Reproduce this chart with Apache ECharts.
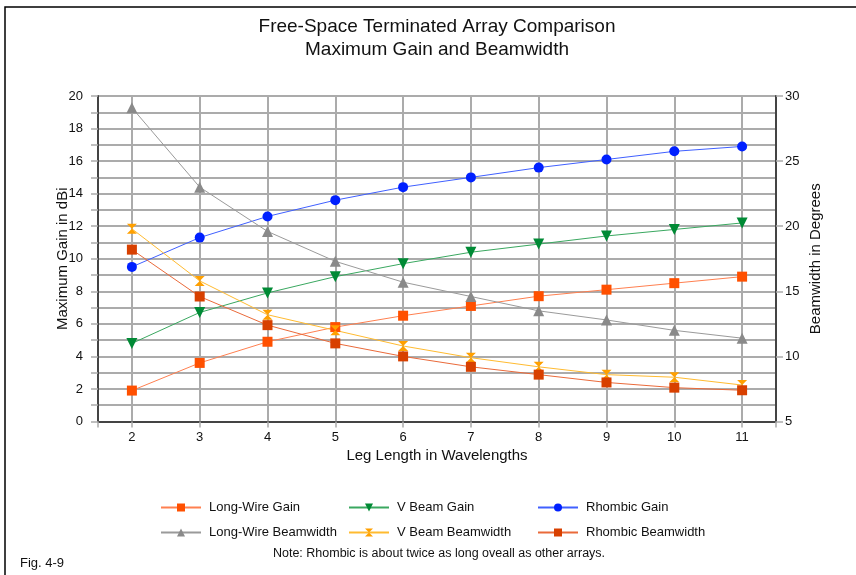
<!DOCTYPE html>
<html>
<head>
<meta charset="utf-8">
<script src="https://cdn.jsdelivr.net/npm/echarts@6/dist/echarts.min.js"></script>
<style>
  html, body { margin: 0; padding: 0; background: #fff; }
  #chart { width: 856px; height: 575px; }
</style>
</head>
<body>
<div id="chart"></div>
<script>
// Leg length (wavelengths) for each computed case
var legs = [2, 3, 4, 5, 6, 7, 8, 9, 10, 11];

// Maximum gain, dBi (left axis)
var longWireGain = [1.9, 3.6, 4.9, 5.8, 6.5, 7.1, 7.7, 8.1, 8.5, 8.9];
var vBeamGain    = [4.8, 6.7, 7.9, 8.9, 9.7, 10.4, 10.9, 11.4, 11.8, 12.2];
var rhombicGain  = [9.5, 11.3, 12.6, 13.6, 14.4, 15.0, 15.6, 16.1, 16.6, 16.9];

// Beamwidth, degrees (right axis)
var longWireBw = [29.1, 23.0, 19.6, 17.3, 15.7, 14.6, 13.5, 12.8, 12.0, 11.4];
var vBeamBw    = [19.8, 15.8, 13.2, 12.0, 10.8, 9.9, 9.2, 8.6, 8.4, 7.8];
var rhombicBw  = [18.2, 14.6, 12.4, 11.0, 10.0, 9.2, 8.6, 8.0, 7.6, 7.4];

var FONT = 'Liberation Sans, Arial, sans-serif';
var GRID = '#ababab';
var AXIS = '#444';

function pairs(vals) {
  return legs.map(function (x, i) { return [x, vals[i]]; });
}

var hourglass = 'path://M0,0L10,0L5,5L10,10L0,10L5,5Z';

function makeSeries(name, vals, axis, symbol, size, lineColor, markColor) {
  return {
    name: name,
    type: 'line',
    yAxisIndex: axis,
    data: pairs(vals),
    symbol: symbol,
    symbolSize: size,
    showAllSymbol: true,
    lineStyle: { color: lineColor, width: 1 },
    itemStyle: { color: markColor },
    emphasis: { disabled: true },
    animation: false
  };
}

var series = [
  makeSeries('Long-Wire Gain', longWireGain, 0, 'rect', 10, '#ff8050', '#ff5000'),
  makeSeries('V Beam Gain', vBeamGain, 0, 'triangle', 11, '#3aa860', '#008a35'),
  makeSeries('Rhombic Gain', rhombicGain, 0, 'circle', 10, '#4060ff', '#0020ff'),
  makeSeries('Long-Wire Beamwidth', longWireBw, 1, 'triangle', 11, '#9a9a9a', '#8a8a8a'),
  makeSeries('V Beam Beamwidth', vBeamBw, 1, hourglass, 10, '#ffbb30', '#ffa000'),
  makeSeries('Rhombic Beamwidth', rhombicBw, 1, 'rect', 10, '#ea6a3a', '#d84000')
];
// V Beam Gain uses a downward triangle
series[1].symbolRotate = 180;

// Legend entries laid out in a 3 x 2 grid
var legendCols = [160, 348, 537];
var legendRows = [501, 526];
var legends = series.map(function (s, i) {
  return {
    data: [s.name],
    left: legendCols[i % 3],
    top: legendRows[Math.floor(i / 3)],
    padding: 0,
    itemWidth: 40,
    itemHeight: 10,
    selectedMode: false,
    textStyle: { fontFamily: FONT, fontSize: 13, color: '#111', padding: [0, 0, 0, 3] }
  };
});

var chart = echarts.init(document.getElementById('chart'), null, { renderer: 'canvas' });
chart.setOption({
  animation: false,
  backgroundColor: '#fff',
  grid: { left: 98, right: 80, top: 96, bottom: 153.5, containLabel: false },
  legend: legends,
  xAxis: {
    type: 'value',
    min: 1.5,
    max: 11.5,
    splitNumber: 10,
    name: 'Leg Length in Wavelengths',
    nameLocation: 'middle',
    nameGap: 26,
    nameTextStyle: { fontFamily: FONT, fontSize: 15, color: '#111' },
    axisLine: { show: true, lineStyle: { color: AXIS, width: 2 } },
    axisTick: { show: true, length: 6, lineStyle: { color: GRID, width: 1.5 } },
    axisLabel: {
      fontFamily: FONT, fontSize: 13, color: '#111', margin: 9,
      formatter: function (v) { return Math.abs(v - Math.round(v)) < 1e-6 ? String(Math.round(v)) : ''; }
    },
    splitLine: { show: true, lineStyle: { color: GRID, width: 2 } }
  },
  yAxis: [
    {
      type: 'value',
      min: 0,
      max: 20,
      interval: 2,
      position: 'left',
      name: 'Maximum Gain in dBi',
      nameLocation: 'middle',
      nameRotate: 90,
      nameGap: 28,
      nameMoveOverlap: false,
      nameTextStyle: { fontFamily: FONT, fontSize: 15, color: '#111' },
      axisLine: { show: true, lineStyle: { color: AXIS, width: 2 } },
      axisTick: { show: true, length: 7, lineStyle: { color: GRID, width: 1.5 } },
      minorTick: { show: true, splitNumber: 2, length: 7, lineStyle: { color: GRID, width: 1.5 } },
      axisLabel: { fontFamily: FONT, fontSize: 13, color: '#111', margin: 15 },
      splitLine: { show: true, lineStyle: { color: GRID, width: 2 } },
      minorSplitLine: { show: true, lineStyle: { color: GRID, width: 2 } }
    },
    {
      type: 'value',
      min: 5,
      max: 30,
      interval: 5,
      position: 'right',
      name: 'Beamwidth in Degrees',
      nameLocation: 'middle',
      nameRotate: 90,
      nameGap: 32,
      nameMoveOverlap: false,
      nameTextStyle: { fontFamily: FONT, fontSize: 15, color: '#111' },
      axisLine: { show: true, lineStyle: { color: AXIS, width: 2 } },
      axisTick: { show: true, length: 7, lineStyle: { color: GRID, width: 1.5 } },
      axisLabel: { fontFamily: FONT, fontSize: 13, color: '#111', margin: 9 },
      splitLine: { show: false }
    }
  ],
  series: series,
  graphic: [
    {
      type: 'rect',
      shape: { x: 5, y: 7, width: 1000, height: 1000 },
      style: { fill: 'none', stroke: '#000', lineWidth: 1.5 },
      silent: true
    },
    {
      type: 'text', x: 437, y: 27,
      style: { text: 'Free-Space Terminated Array Comparison', fontFamily: FONT, fontSize: 19,
               fill: '#111', textAlign: 'center', textVerticalAlign: 'middle' }
    },
    {
      type: 'text', x: 437, y: 50,
      style: { text: 'Maximum Gain and Beamwidth', fontFamily: FONT, fontSize: 19,
               fill: '#111', textAlign: 'center', textVerticalAlign: 'middle' }
    },
    {
      type: 'text', x: 439, y: 554,
      style: { text: 'Note: Rhombic is about twice as long oveall as other arrays.', fontFamily: FONT,
               fontSize: 12.5, fill: '#111', textAlign: 'center', textVerticalAlign: 'middle' }
    },
    {
      type: 'text', x: 20, y: 563,
      style: { text: 'Fig. 4-9', fontFamily: FONT, fontSize: 13, fill: '#111',
               textAlign: 'left', textVerticalAlign: 'middle' }
    }
  ]
});
</script>
</body>
</html>
